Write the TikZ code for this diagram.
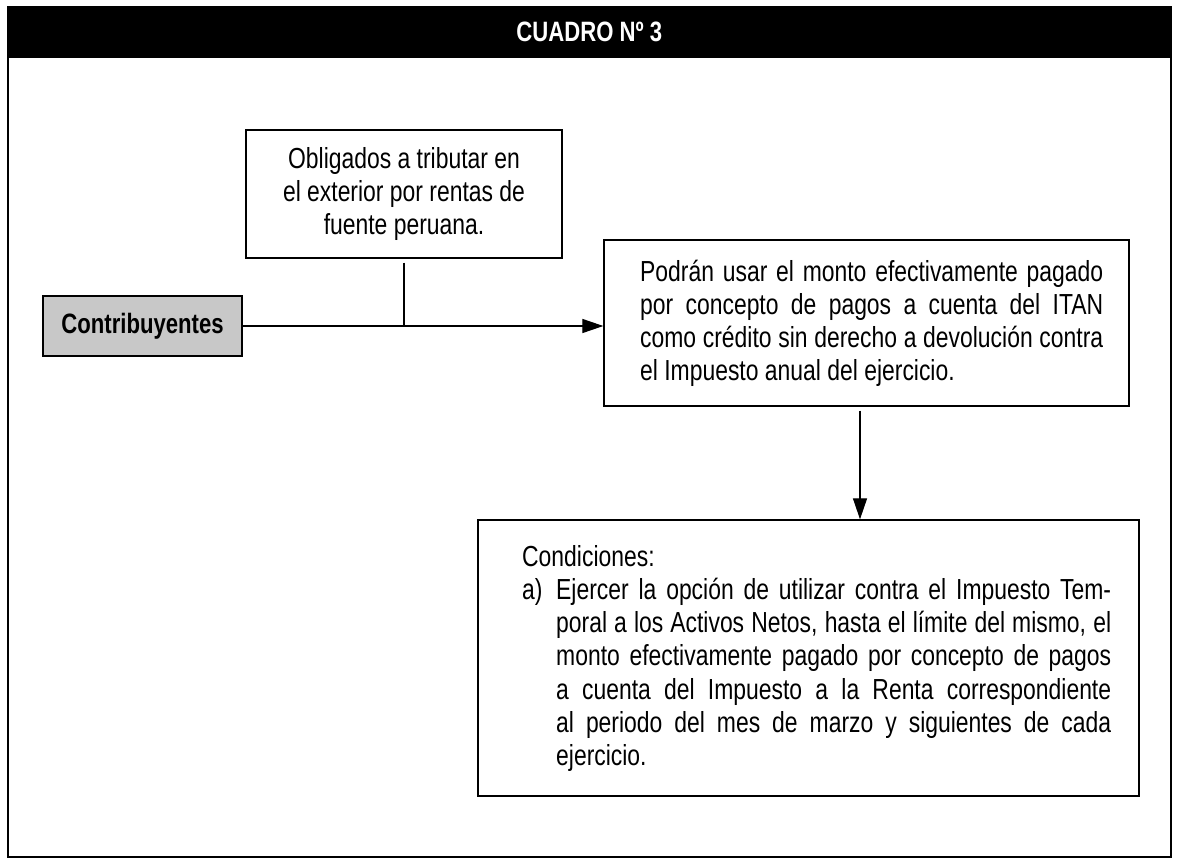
\documentclass[tikz,border=0pt]{standalone}
\usepackage{fontspec}
\setmainfont{Liberation Sans}[FakeStretch=0.79]
\usetikzlibrary{arrows.meta}
\definecolor{boxgray}{RGB}{200,200,200}
\begin{document}
\begin{tikzpicture}[x=1pt,y=-1pt,
  box/.style={draw, line width=1.3pt, inner sep=0pt, rectangle},
  bodyfont/.style={font=\fontsize{29}{33.3}\selectfont},
  boldfont/.style={font=\fontsize{28}{32}\selectfont\bfseries},
  conn/.style={line width=1.2pt},
  arr/.style={conn, -{Triangle[length=21pt,width=14pt]}}]
\useasboundingbox (0,0) rectangle (1183,867);
% outer frame and header
\node[box, line width=1.6pt, minimum width=1163pt, minimum height=850pt, anchor=north west] (frame) at (7,6) {};
\node[box, line width=1.6pt, fill=black, minimum width=1163pt, minimum height=50pt, anchor=north west] (header) at (7,6) {};
\node[boldfont, text=white] (title) at (header.center) {CUADRO Nº 3};
% boxes
\node[box, fill=boxgray, minimum width=199pt, minimum height=60pt, boldfont] (contrib) at (142.5,326) {Contribuyentes};
\node[box, minimum width=316pt, minimum height=128pt, bodyfont, align=center] (oblig) at (404,194)
  {Obligados a tributar en\\el exterior por rentas de\\fuente peruana.};
\node[box, minimum width=525pt, minimum height=166pt] (podran) at (866.5,323) {};
\node[bodyfont, inner sep=0pt, text width=463pt, align=justify, anchor=base west] (podrantext) at (640,281)
  {Podrán usar el monto efectivamente pagado\linebreak por concepto de pagos a cuenta del ITAN\linebreak como crédito sin derecho a devolución contra\linebreak el Impuesto anual del ejercicio.};
\node[box, minimum width=661pt, minimum height=276pt] (cond) at (808.5,658) {};
\node[bodyfont, inner sep=0pt, text width=589pt, align=justify, anchor=base west] (condtext) at (522,566)
  {\noindent Condiciones:\par
   \noindent\hangindent=34pt\hangafter=1\makebox[34pt][l]{a)}Ejercer la opción de utilizar contra el Impuesto Tem-\linebreak poral a los Activos Netos, hasta el límite del mismo, el\linebreak monto efectivamente pagado por concepto de pagos\linebreak a cuenta del Impuesto a la Renta correspondiente\linebreak al periodo del mes de marzo y siguientes de cada\linebreak ejercicio.\par};
% connectors
\coordinate (junction) at (oblig.south |- contrib.east);
\draw[arr] (contrib.east) -- (contrib.east -| podran.west);
\draw[conn, shorten <=4pt] (oblig.south) -- (junction);
\draw[arr, shorten <=4pt] ([xshift=-6.5pt]podran.south) -- ([xshift=-6.5pt]podran.south |- cond.north);
\end{tikzpicture}
\end{document}
